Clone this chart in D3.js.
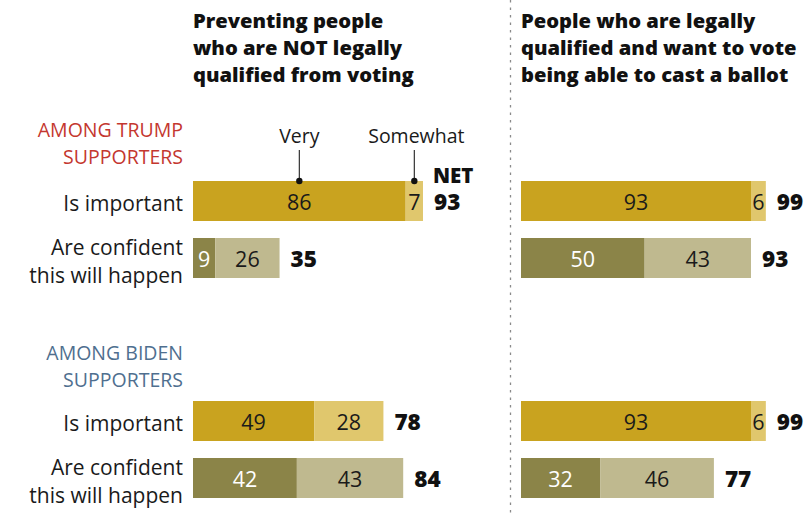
<!DOCTYPE html>
<html>
<head>
<meta charset="utf-8">
<script src="https://cdn.jsdelivr.net/npm/d3@7"></script>
<style>
  html, body { margin: 0; padding: 0; background: #fff; }
  svg { display: block; }
  text { font-family: "Open Sans", "Liberation Sans", sans-serif; }
</style>
</head>
<body>
<svg id="chart" width="809" height="513"></svg>
<script>
// Panel headings (one per column of bars)
const panelTitles = [
  ["Preventing people", "who are NOT legally", "qualified from voting"],
  ["People who are legally", "qualified and want to vote", "being able to cast a ballot"]
];

// Supporter groups and the two questions asked of each
const groupLabels = [["AMONG TRUMP", "SUPPORTERS"], ["AMONG BIDEN", "SUPPORTERS"]];
const groupColors = ["#c4372f", "#4f6f8f"];
const measureLabels = [["Is important"], ["Are confident", "this will happen"]];

// Rows in order: Trump important, Trump confident, Biden important, Biden confident
const preventingVery     = [86, 9, 49, 42];
const preventingSomewhat = [7, 26, 28, 43];
const preventingNet      = [93, 35, 78, 84];

const castingVery     = [93, 50, 93, 32];
const castingSomewhat = [6, 43, 6, 46];
const castingNet      = [99, 93, 99, 77];

const segmentLabels = ["Very", "Somewhat"];

const svg = d3.select("#chart");

// Shared percentage scale, one origin per panel
const unit = 2.473;
const panelX = [193, 521];
const xScales = panelX.map(x0 => d3.scaleLinear().domain([0, 100]).range([x0, x0 + 100 * unit]));

// Vertical layout of the rows
const barH = 40;
const rowTop = (g, m) => 181 + g * 220 + m * 57;

// Colours: gold shades for "important", olive shades for "confident"
const fills = [
  ["#c9a31f", "#e0c76d"],
  ["#8b8448", "#bfb98f"]
];
const insideText = [
  ["#1a1a1a", "#1a1a1a"],
  ["#ffffff", "#1a1a1a"]
];

const panels = [
  { very: preventingVery, somewhat: preventingSomewhat, net: preventingNet },
  { very: castingVery, somewhat: castingSomewhat, net: castingNet }
];

// Dotted divider between the two panels
svg.append("line")
  .attr("x1", 510.5).attr("x2", 510.5)
  .attr("y1", 0).attr("y2", 513)
  .attr("stroke", "#8a8a8a")
  .attr("stroke-width", 1.3)
  .attr("stroke-dasharray", "2.5,5");

// Panel headings
panelTitles.forEach((lines, p) => {
  const t = svg.append("text")
    .attr("x", panelX[p])
    .attr("y", 28)
    .attr("font-size", 20.2)
    .attr("font-weight", 800)
    .attr("fill", "#111");
  lines.forEach((ln, i) => {
    t.append("tspan").attr("x", panelX[p]).attr("dy", i === 0 ? 0 : 27).text(ln);
  });
});

// Group headings and row labels on the left
groupLabels.forEach((lines, g) => {
  const t = svg.append("text")
    .attr("x", 183)
    .attr("y", 137 + g * 223)
    .attr("text-anchor", "end")
    .attr("font-size", 19.5)
    .attr("fill", groupColors[g]);
  lines.forEach((ln, i) => {
    t.append("tspan").attr("x", 183).attr("dy", i === 0 ? 0 : 27).text(ln);
  });

  measureLabels.forEach((mLines, m) => {
    const top = rowTop(g, m);
    const firstBase = mLines.length === 1 ? top + 30 : top + 17;
    const lt = svg.append("text")
      .attr("x", 183)
      .attr("y", firstBase)
      .attr("text-anchor", "end")
      .attr("font-size", 21)
      .attr("fill", "#1a1a1a");
    mLines.forEach((ln, i) => {
      lt.append("tspan").attr("x", 183).attr("dy", i === 0 ? 0 : 28).text(ln);
    });
  });
});

// Stacked bars
panels.forEach((pd, p) => {
  const x = xScales[p];
  pd.very.forEach((v, r) => {
    const g = Math.floor(r / 2), m = r % 2;
    const top = rowTop(g, m);
    const segs = [
      { v0: 0, v1: v, val: v, k: 0 },
      { v0: v, v1: v + pd.somewhat[r], val: pd.somewhat[r], k: 1 }
    ];
    const row = svg.append("g");
    row.selectAll("rect").data(segs).join("rect")
      .attr("x", d => x(d.v0))
      .attr("y", top)
      .attr("width", d => x(d.v1) - x(d.v0))
      .attr("height", barH)
      .attr("fill", d => fills[m][d.k]);
    row.selectAll("text.val").data(segs).join("text")
      .attr("class", "val")
      .attr("x", d => (x(d.v0) + x(d.v1)) / 2)
      .attr("y", top + 29)
      .attr("text-anchor", "middle")
      .attr("font-size", 21.5)
      .attr("fill", d => insideText[m][d.k])
      .text(d => d.val);
    // NET total just past the end of the bar
    row.append("text")
      .attr("x", x(v + pd.somewhat[r]) + 11)
      .attr("y", top + 29)
      .attr("font-size", 22.5)
      .attr("font-weight", 800)
      .attr("fill", "#111")
      .text(pd.net[r]);
  });
});

// Legend callouts on the first bar of the left panel
(function () {
  const x = xScales[0];
  const top = rowTop(0, 0);
  const centers = [
    x(preventingVery[0] / 2),
    x(preventingVery[0] + preventingSomewhat[0] / 2)
  ];
  centers.forEach((cx, i) => {
    svg.append("line")
      .attr("x1", cx).attr("x2", cx)
      .attr("y1", 150).attr("y2", top)
      .attr("stroke", "#333").attr("stroke-width", 1.2);
    svg.append("circle")
      .attr("cx", cx).attr("cy", top)
      .attr("r", 3.2).attr("fill", "#111");
    svg.append("text")
      .attr("x", cx + (i === 1 ? 2 : 0))
      .attr("y", 143)
      .attr("text-anchor", "middle")
      .attr("font-size", 19.5)
      .attr("fill", "#1a1a1a")
      .text(segmentLabels[i]);
  });
  svg.append("text")
    .attr("x", x(preventingVery[0] + preventingSomewhat[0]) + 10)
    .attr("y", 183)
    .attr("font-size", 20.5)
    .attr("font-weight", 800)
    .attr("fill", "#111")
    .text("NET");
})();
</script>
</body>
</html>
